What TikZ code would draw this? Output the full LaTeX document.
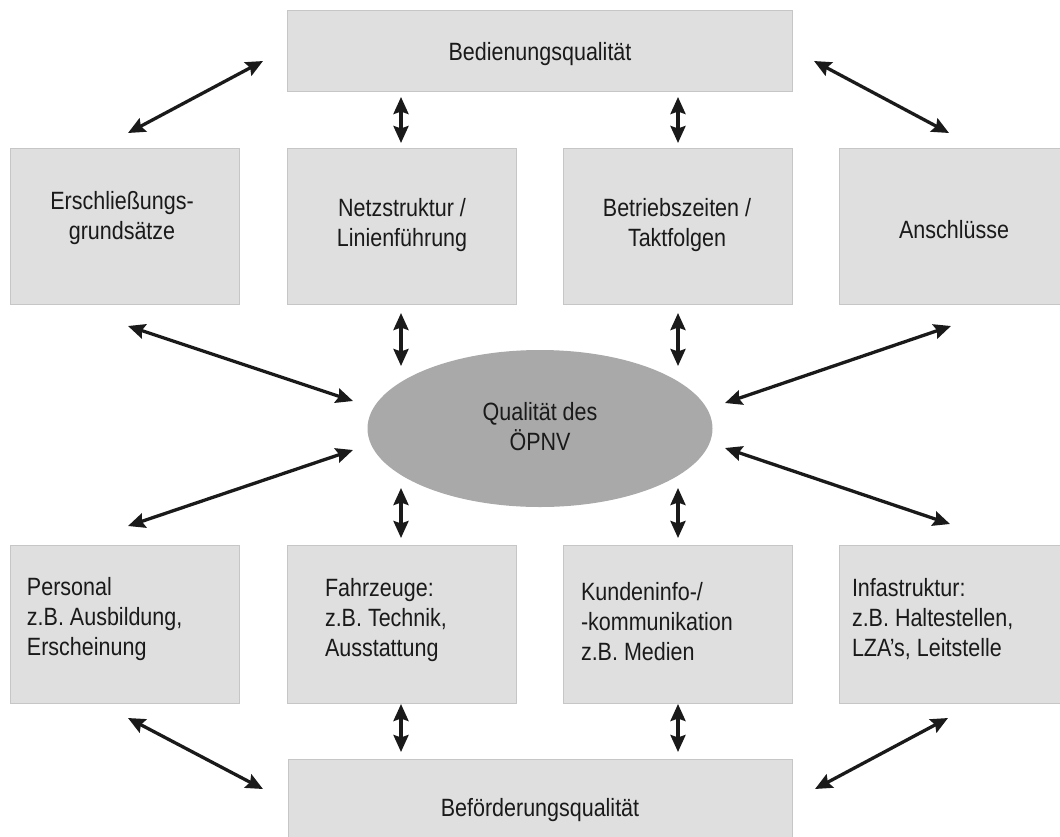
\documentclass[tikz,border=0pt]{standalone}
\usepackage{fontspec}
\setmainfont{Liberation Sans}[FakeStretch=0.86]
\usetikzlibrary{arrows.meta,shapes.geometric}
\definecolor{boxfill}{HTML}{DFDFDF}
\definecolor{boxline}{HTML}{C6C6C6}
\definecolor{ellfill}{HTML}{A9A9A9}
\definecolor{ink}{HTML}{1A1A1A}
\begin{document}
\begin{tikzpicture}[x=1pt,y=-1pt,
  qbox/.style={draw=boxline, line width=0.8pt, fill=boxfill, inner sep=0pt, outer sep=0pt},
  wide/.style={qbox, minimum width=505pt, minimum height=81pt},
  cell/.style={qbox, minimum width=229pt, minimum height=156pt},
  oval/.style={ellipse, fill=ellfill, draw=none, inner sep=0pt, minimum width=345pt, minimum height=157pt},
  txt/.style={inner sep=0pt, outer sep=0pt, text=ink, font=\fontsize{25}{30}\selectfont},
  conn/.style={draw=ink, line width=3.3pt, {Stealth[length=17pt,width=15pt,inset=2.5pt]}-{Stealth[length=17pt,width=15pt,inset=2.5pt]}}
]
\useasboundingbox (0,0) rectangle (1060,836);
\clip (0,0) rectangle (1060,836);

% boxes
\node[wide] (top) at (539.5,50.5) {};
\node[cell] (b1) at (125,226) {};
\node[cell] (b2) at (401.5,226) {};
\node[cell] (b3) at (677.5,226) {};
\node[cell, minimum width=231pt] (b4) at (954.5,226) {};
\node[oval] (q) at (540,428.5) {};
\node[cell, minimum height=158pt] (b5) at (125,624) {};
\node[cell, minimum height=158pt] (b6) at (401.5,624) {};
\node[cell, minimum height=158pt] (b7) at (677.5,624) {};
\node[cell, minimum width=231pt, minimum height=158pt] (b8) at (954.5,624) {};
\node[wide, minimum width=504pt] (bot) at (540,799.5) {};

% texts
\node[txt, anchor=base] (ttop) at (540,60) {Bedienungsqualität};
\node[txt, anchor=base] (t1) at (122,209) {\begin{tabular}[t]{@{}c@{}}Erschließungs-\\grundsätze\end{tabular}};
\node[txt, anchor=base] (t2) at (402,216) {\begin{tabular}[t]{@{}c@{}}Netzstruktur /\\Linienführung\end{tabular}};
\node[txt, anchor=base] (t3) at (677,216) {\begin{tabular}[t]{@{}c@{}}Betriebszeiten /\\Taktfolgen\end{tabular}};
\node[txt, anchor=base] (t4) at (954,238) {Anschlüsse};
\node[txt, anchor=base] (tq) at (540,420) {\begin{tabular}[t]{@{}c@{}}Qualität des\\ÖPNV\end{tabular}};
\node[txt, anchor=base west] (t5) at (27,595) {\begin{tabular}[t]{@{}l@{}}Personal\\z.B. Ausbildung,\\Erscheinung\end{tabular}};
\node[txt, anchor=base west] (t6) at (325,596) {\begin{tabular}[t]{@{}l@{}}Fahrzeuge:\\z.B. Technik,\\Ausstattung\end{tabular}};
\node[txt, anchor=base west] (t7) at (581,600) {\begin{tabular}[t]{@{}l@{}}Kundeninfo-/\\-kommunikation\\z.B. Medien\end{tabular}};
\node[txt, anchor=base west] (t8) at (852,596) {\begin{tabular}[t]{@{}l@{}}Infastruktur:\\z.B. Haltestellen,\\LZA’s, Leitstelle\end{tabular}};
\node[txt, anchor=base] (tbot) at (540,816) {Beförderungsqualität};

% connector end points
\coordinate (a1) at (128,133);  \coordinate (a2) at (263,61);
\coordinate (a3) at (814,61);   \coordinate (a4) at (949,133);
\coordinate (v1a) at (401,97);  \coordinate (v1b) at (401,143);
\coordinate (v2a) at (678,97);  \coordinate (v2b) at (678,143);
\coordinate (v3a) at (401,313); \coordinate (v3b) at (401,366);
\coordinate (v4a) at (678,313); \coordinate (v4b) at (678,366);
\coordinate (d1a) at (128,326); \coordinate (d1b) at (353,401);
\coordinate (d2a) at (951,326); \coordinate (d2b) at (725,403);
\coordinate (d3a) at (353,450); \coordinate (d3b) at (128,526);
\coordinate (d4a) at (725,448); \coordinate (d4b) at (950,524);
\coordinate (v5a) at (401,488); \coordinate (v5b) at (401,538);
\coordinate (v6a) at (678,488); \coordinate (v6b) at (678,538);
\coordinate (v7a) at (401,704); \coordinate (v7b) at (401,752);
\coordinate (v8a) at (678,704); \coordinate (v8b) at (678,752);
\coordinate (e1a) at (128,718); \coordinate (e1b) at (263,789);
\coordinate (e2a) at (948,718); \coordinate (e2b) at (815,789);

% connectors
\draw[conn] (a1) -- (a2);
\draw[conn] (a3) -- (a4);
\draw[conn] (v1a) -- (v1b);
\draw[conn] (v2a) -- (v2b);
\draw[conn] (v3a) -- (v3b);
\draw[conn] (v4a) -- (v4b);
\draw[conn] (d1a) -- (d1b);
\draw[conn] (d2a) -- (d2b);
\draw[conn] (d3a) -- (d3b);
\draw[conn] (d4a) -- (d4b);
\draw[conn] (v5a) -- (v5b);
\draw[conn] (v6a) -- (v6b);
\draw[conn] (v7a) -- (v7b);
\draw[conn] (v8a) -- (v8b);
\draw[conn] (e1a) -- (e1b);
\draw[conn] (e2a) -- (e2b);
\end{tikzpicture}
\end{document}
